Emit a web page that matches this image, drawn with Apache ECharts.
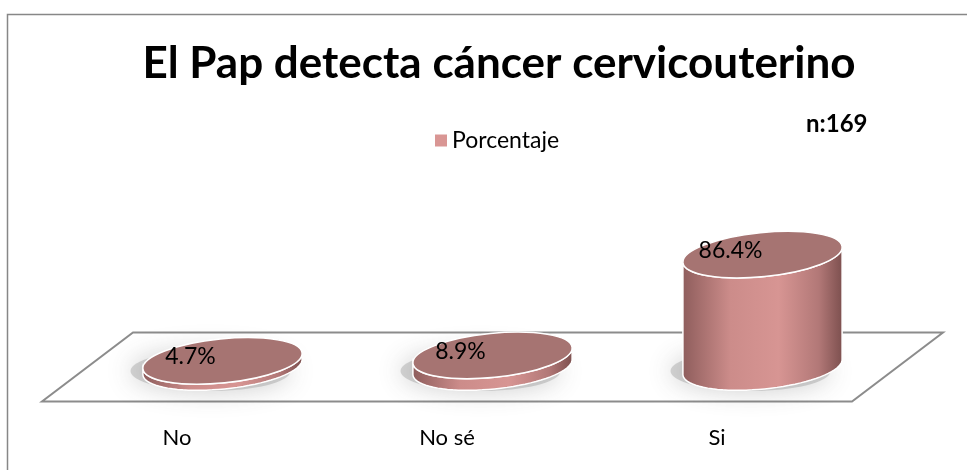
<!DOCTYPE html>
<html>
<head>
<meta charset="utf-8">
<script src="https://cdn.jsdelivr.net/npm/echarts@6/dist/echarts.min.js"></script>
<style>
  html, body { margin: 0; padding: 0; background: #fff; }
  #chart { width: 967px; height: 470px; }
</style>
</head>
<body>
<div id="chart"></div>
<script>
// datos del gráfico
const categories = ['No', 'No sé', 'Si']
const values = [4.7, 8.9, 86.4]
const seriesName = 'Porcentaje'

const font = 'Lato, "Open Sans", sans-serif'
const DX = 45.5   // medio fondo del piso, horizontal
const DY = 34.5   // medio fondo del piso, vertical
const RX = 80
const RY = 22
const TILT = -0.1

// punto de una elipse girada
function ep(cx, cy, t) {
    const x = RX * Math.cos(t), y = RY * Math.sin(t)
    return [cx + x * Math.cos(TILT) - y * Math.sin(TILT), cy + x * Math.sin(TILT) + y * Math.cos(TILT)]
}

function renderFloor(params, api) {
    const cs = params.coordSys
    const base = api.coord([0, 0])[1]
    const l = cs.x, r = cs.x + cs.width
    return {
        type: 'polygon',
        shape: { points: [[l, base + DY], [r, base + DY], [r + 2 * DX, base - DY], [l + 2 * DX, base - DY]] },
        style: { fill: '#fff', stroke: '#8c8c8c', lineWidth: 2 }
    }
}

function renderCylinder(params, api) {
    const p0 = api.coord([api.value(0), 0])
    const p1 = api.coord([api.value(0), api.value(1)])
    const cx = p0[0] + DX
    const by = p0[1], ty = p1[1]
    const side = []
    for (let i = 0; i <= 40; i++) side.push(ep(cx, by, Math.PI * i / 40))
    for (let i = 40; i >= 0; i--) side.push(ep(cx, ty, Math.PI * i / 40))
    return {
        type: 'group',
        children: [
            {
                type: 'ellipse',
                shape: { cx: cx - 12, cy: by + 4, rx: RX, ry: RY - 2 },
                style: { fill: 'rgba(140,140,140,0.35)', shadowBlur: 26, shadowColor: 'rgba(70,70,70,0.75)' }
            },
            {
                type: 'polygon',
                shape: { points: side },
                style: {
                    fill: new echarts.graphic.LinearGradient(0, 0, 1, 0, [
                        { offset: 0, color: '#8e5d5c' },
                        { offset: 0.3, color: '#cc8c8a' },
                        { offset: 0.6, color: '#d79593' },
                        { offset: 0.85, color: '#b27877' },
                        { offset: 1, color: '#7c4f4e' }
                    ]),
                    stroke: '#fff', lineWidth: 1.5
                }
            },
            {
                type: 'ellipse',
                shape: { cx: cx, cy: ty, rx: RX, ry: RY },
                rotation: -TILT,
                originX: cx, originY: ty,
                style: { fill: '#a67472', stroke: '#fff', lineWidth: 1.5 }
            },
            {
                type: 'text',
                x: cx - 32, y: ty - 4,
                style: {
                    text: api.value(1).toFixed(1) + '%',
                    fill: '#000', font: '23px ' + font,
                    align: 'center', verticalAlign: 'middle'
                }
            }
        ]
    }
}

const chart = echarts.init(document.getElementById('chart'))
chart.setOption({
    animation: false,
    title: {
        text: 'El Pap detecta cáncer cervicouterino',
        left: 494, top: 37, textAlign: 'center',
        textStyle: { fontFamily: font, fontWeight: 'bold', fontSize: 44, color: '#000' }
    },
    legend: {
        left: 430, top: 124,
        icon: 'rect', itemWidth: 12, itemHeight: 12, itemGap: 8,
        textStyle: { fontFamily: font, fontSize: 23, color: '#000' },
        data: [seriesName]
    },
    grid: { left: 42, right: 115, top: 237, bottom: 103 },
    xAxis: {
        type: 'category', data: categories,
        axisLine: { show: false }, axisTick: { show: false },
        axisLabel: { margin: 60, fontFamily: font, fontSize: 22, color: '#000' }
    },
    yAxis: { type: 'value', min: 0, max: 100, show: false, splitLine: { show: false } },
    graphic: [
        { type: 'rect', left: 5, top: 12, shape: { width: 1000, height: 500 }, style: { fill: 'none', stroke: '#878787', lineWidth: 1.5 }, silent: true },
        { type: 'text', left: 806, top: 112, style: { text: 'n:169', font: 'bold 24px ' + font, fill: '#000' } }
    ],
    series: [
        { type: 'custom', renderItem: renderFloor, data: [[0, 0]], silent: true, z: 1 },
        {
            name: seriesName, type: 'custom', z: 2,
            itemStyle: { color: '#d99694' },
            renderItem: renderCylinder,
            data: values.map((v, i) => [i, v])
        }
    ]
})
</script>
</body>
</html>
